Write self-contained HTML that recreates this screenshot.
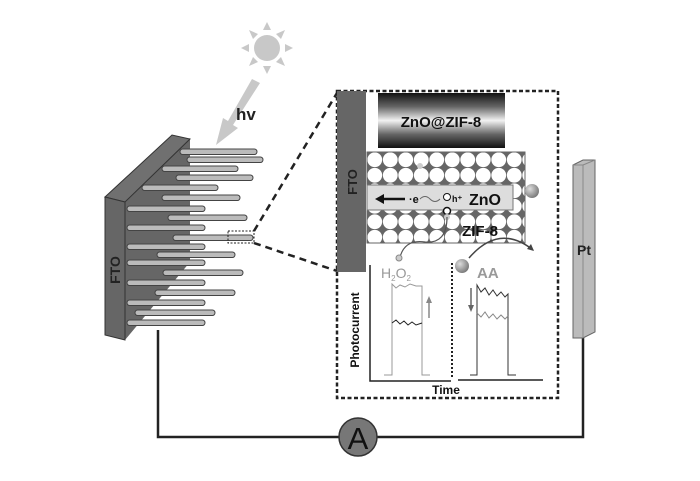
<!DOCTYPE html>
<html><head><meta charset="utf-8"><style>
html,body{margin:0;padding:0;background:#fff;}
svg{display:block;font-family:"Liberation Sans",sans-serif;}
</style></head><body>
<svg width="700" height="481" viewBox="0 0 700 481">
<defs>
<linearGradient id="img" x1="0" y1="0" x2="0" y2="1">
<stop offset="0" stop-color="#111"/><stop offset="0.25" stop-color="#666"/><stop offset="0.5" stop-color="#f2f2f2"/><stop offset="0.75" stop-color="#666"/><stop offset="1" stop-color="#111"/>
</linearGradient>
<radialGradient id="ball" cx="0.35" cy="0.35" r="0.7"><stop offset="0" stop-color="#ddd"/><stop offset="1" stop-color="#777"/></radialGradient>
<pattern id="circ" x="367" y="152" width="15.5" height="15.5" patternUnits="userSpaceOnUse">
<rect width="15.5" height="15.5" fill="#666"/><circle cx="7.75" cy="7.75" r="7.4" fill="#fff"/></pattern>
</defs>
<g fill="#c8c8c8">
<circle cx="267" cy="48" r="13"/>
<polygon points="267,22 263,30 271,30"/><polygon points="267,74 263,66 271,66"/>
<polygon points="241,48 249,44 249,52"/><polygon points="293,48 285,44 285,52"/>
<polygon points="249,30 258,34 253,39"/><polygon points="285,30 276,34 281,39"/>
<polygon points="249,66 258,62 253,57"/><polygon points="285,66 276,62 281,57"/>
<polygon points="252,79 260,83 233,125 238,128 216,145 223,118 228,121"/>
</g>
<text x="236" y="120" font-size="17" font-weight="bold" fill="#222">hv</text>
<polygon points="125,202 190,138 190,262 125,340" fill="#666"/>
<polygon points="105,197 172,135 190,139 125,202" fill="#707070" stroke="#333" stroke-width="1"/>
<g stroke="#444" stroke-width="1">
<rect x="180" y="149" width="77" height="5.5" rx="2.7" fill="#bbb"/>
<rect x="187" y="157" width="76" height="5.5" rx="2.7" fill="#bbb"/>
<rect x="162" y="166" width="76" height="5.5" rx="2.7" fill="#bbb"/>
<rect x="176" y="175" width="77" height="5.5" rx="2.7" fill="#bbb"/>
<rect x="142" y="185" width="76" height="5.5" rx="2.7" fill="#bbb"/>
<rect x="162" y="195" width="78" height="5.5" rx="2.7" fill="#bbb"/>
<rect x="127" y="206" width="78" height="5.5" rx="2.7" fill="#bbb"/>
<rect x="168" y="215" width="79" height="5.5" rx="2.7" fill="#bbb"/>
<rect x="127" y="225" width="78" height="5.5" rx="2.7" fill="#bbb"/>
<rect x="173" y="235" width="80" height="5.5" rx="2.7" fill="#bbb"/>
<rect x="127" y="244" width="78" height="5.5" rx="2.7" fill="#bbb"/>
<rect x="157" y="252" width="78" height="5.5" rx="2.7" fill="#bbb"/>
<rect x="127" y="260" width="78" height="5.5" rx="2.7" fill="#bbb"/>
<rect x="163" y="270" width="80" height="5.5" rx="2.7" fill="#bbb"/>
<rect x="127" y="280" width="78" height="5.5" rx="2.7" fill="#bbb"/>
<rect x="155" y="290" width="80" height="5.5" rx="2.7" fill="#bbb"/>
<rect x="127" y="300" width="78" height="5.5" rx="2.7" fill="#bbb"/>
<rect x="135" y="310" width="80" height="5.5" rx="2.7" fill="#bbb"/>
<rect x="127" y="320" width="78" height="5.5" rx="2.7" fill="#bbb"/>
</g>
<polygon points="105,197 125,202 125,340 105,335" fill="#666" stroke="#333"/>
<text transform="translate(120,270) rotate(-90)" text-anchor="middle" font-size="14" font-weight="bold" fill="#222">FTO</text>
<rect x="228" y="231" width="26" height="12" fill="none" stroke="#222" stroke-dasharray="2,1.5"/>
<line x1="254" y1="231" x2="337" y2="93" stroke="#222" stroke-width="2.5" stroke-dasharray="7,5"/>
<line x1="254" y1="243" x2="337" y2="271" stroke="#222" stroke-width="2.5" stroke-dasharray="7,5"/>
<polyline points="158,330 158,437 583,437 583,338" fill="none" stroke="#222" stroke-width="2.5"/>
<circle cx="358" cy="437" r="19" fill="#777" stroke="#333" stroke-width="1.5"/>
<text x="358" y="449" text-anchor="middle" font-size="31" fill="#111">A</text>
<polygon points="573,165 583,160 595,160 595,332 583,338 573,338" fill="#bbb" stroke="#666"/>
<line x1="583" y1="165" x2="583" y2="338" stroke="#888"/>
<line x1="573" y1="165" x2="583" y2="165" stroke="#888"/>
<line x1="583" y1="165" x2="595" y2="160" stroke="#888"/>
<text x="584" y="255" text-anchor="middle" font-size="14" font-weight="bold" fill="#222">Pt</text>
<rect x="337" y="91" width="221" height="307" fill="none" stroke="#222" stroke-width="2.5" stroke-dasharray="4,2.5"/>
<rect x="337" y="91" width="29" height="181" fill="#666"/>
<text transform="translate(357,182) rotate(-90)" text-anchor="middle" font-size="13" font-weight="bold" fill="#222">FTO</text>
<rect x="378" y="93" width="127" height="55" fill="url(#img)"/>
<text x="441" y="127" text-anchor="middle" font-size="15" font-weight="bold" fill="#111">ZnO@ZIF-8</text>
<rect x="367" y="152" width="158" height="91" fill="url(#circ)" stroke="#666"/>
<rect x="367" y="185" width="146" height="25" fill="#ddd" stroke="#777"/>
<line x1="405" y1="199" x2="380" y2="199" stroke="#111" stroke-width="2.5"/>
<polygon points="375,199 384,194 384,204" fill="#111"/>
<text x="409" y="203" font-size="11" font-weight="bold" fill="#111">·e</text>
<path d="M420,199 q5,-5 10,0 t10,0" fill="none" stroke="#666" stroke-width="1"/>
<circle cx="447" cy="197" r="3.5" fill="#fff" stroke="#111"/>
<text x="452" y="202" font-size="9" font-weight="bold" fill="#111">h⁺</text>
<circle cx="447" cy="211" r="3.5" fill="#fff" stroke="#111" stroke-width="1.5"/>
<text x="485" y="205" text-anchor="middle" font-size="16" font-weight="bold" fill="#111">ZnO</text>
<text x="480" y="236" text-anchor="middle" font-size="15" font-weight="bold" fill="#111">ZIF-8</text>
<circle cx="532" cy="191" r="7" fill="url(#ball)"/>
<circle cx="420" cy="166" r="3" fill="#ccc"/>
<circle cx="447" cy="217" r="3" fill="#ccc"/>
<path d="M400,257 q5,-18 25,-15 q22,2 22,-25" fill="none" stroke="#555" stroke-width="1.2"/>
<circle cx="399" cy="258" r="3" fill="#ccc" stroke="#888"/>
<path d="M469,258 q30,-35 64,-8" fill="none" stroke="#444" stroke-width="1.5"/>
<polygon points="534,251 527,249 531,244" fill="#444"/>
<circle cx="462" cy="266" r="7" fill="url(#ball)"/>
<text x="381" y="278" font-size="14" fill="#999">H<tspan font-size="8" dy="3">2</tspan><tspan dy="-3">O</tspan><tspan font-size="8" dy="3">2</tspan></text>
<text x="477" y="278" font-size="15" font-weight="bold" fill="#999">AA</text>
<line x1="452" y1="263" x2="452" y2="378" stroke="#222" stroke-width="2" stroke-dasharray="2,2"/>
<polyline points="370,265 370,381 451,381" fill="none" stroke="#222" stroke-width="1.5"/>
<line x1="458" y1="380" x2="543" y2="380" stroke="#222" stroke-width="1.5"/>
<polyline points="384,375 392,375 392,284 396,288 400,285 405,287 410,284 416,286 422,286 422,375 430,375" fill="none" stroke="#999" stroke-width="1"/>
<polyline points="392,323 396,320 400,324 404,321 408,325 412,322 416,325 422,323" fill="none" stroke="#222" stroke-width="1"/>
<line x1="429" y1="318" x2="429" y2="300" stroke="#888" stroke-width="1.5"/><polygon points="429,296 426,303 432,303" fill="#888"/>
<polyline points="470,375 477,375 477,285 481,292 485,288 489,295 493,290 497,296 501,292 505,297 508,294 508,375 516,375" fill="none" stroke="#333" stroke-width="1"/>
<polyline points="477,313 481,317 485,312 489,318 493,314 497,319 501,315 505,319 508,316" fill="none" stroke="#888" stroke-width="1"/>
<line x1="471" y1="288" x2="471" y2="308" stroke="#666" stroke-width="1.5"/><polygon points="471,312 468,305 474,305" fill="#666"/>
<text transform="translate(359,330) rotate(-90)" text-anchor="middle" font-size="12" font-weight="bold" fill="#111">Photocurrent</text>
<text x="446" y="394" text-anchor="middle" font-size="12" font-weight="bold" fill="#111">Time</text>
</svg>
</body></html>
